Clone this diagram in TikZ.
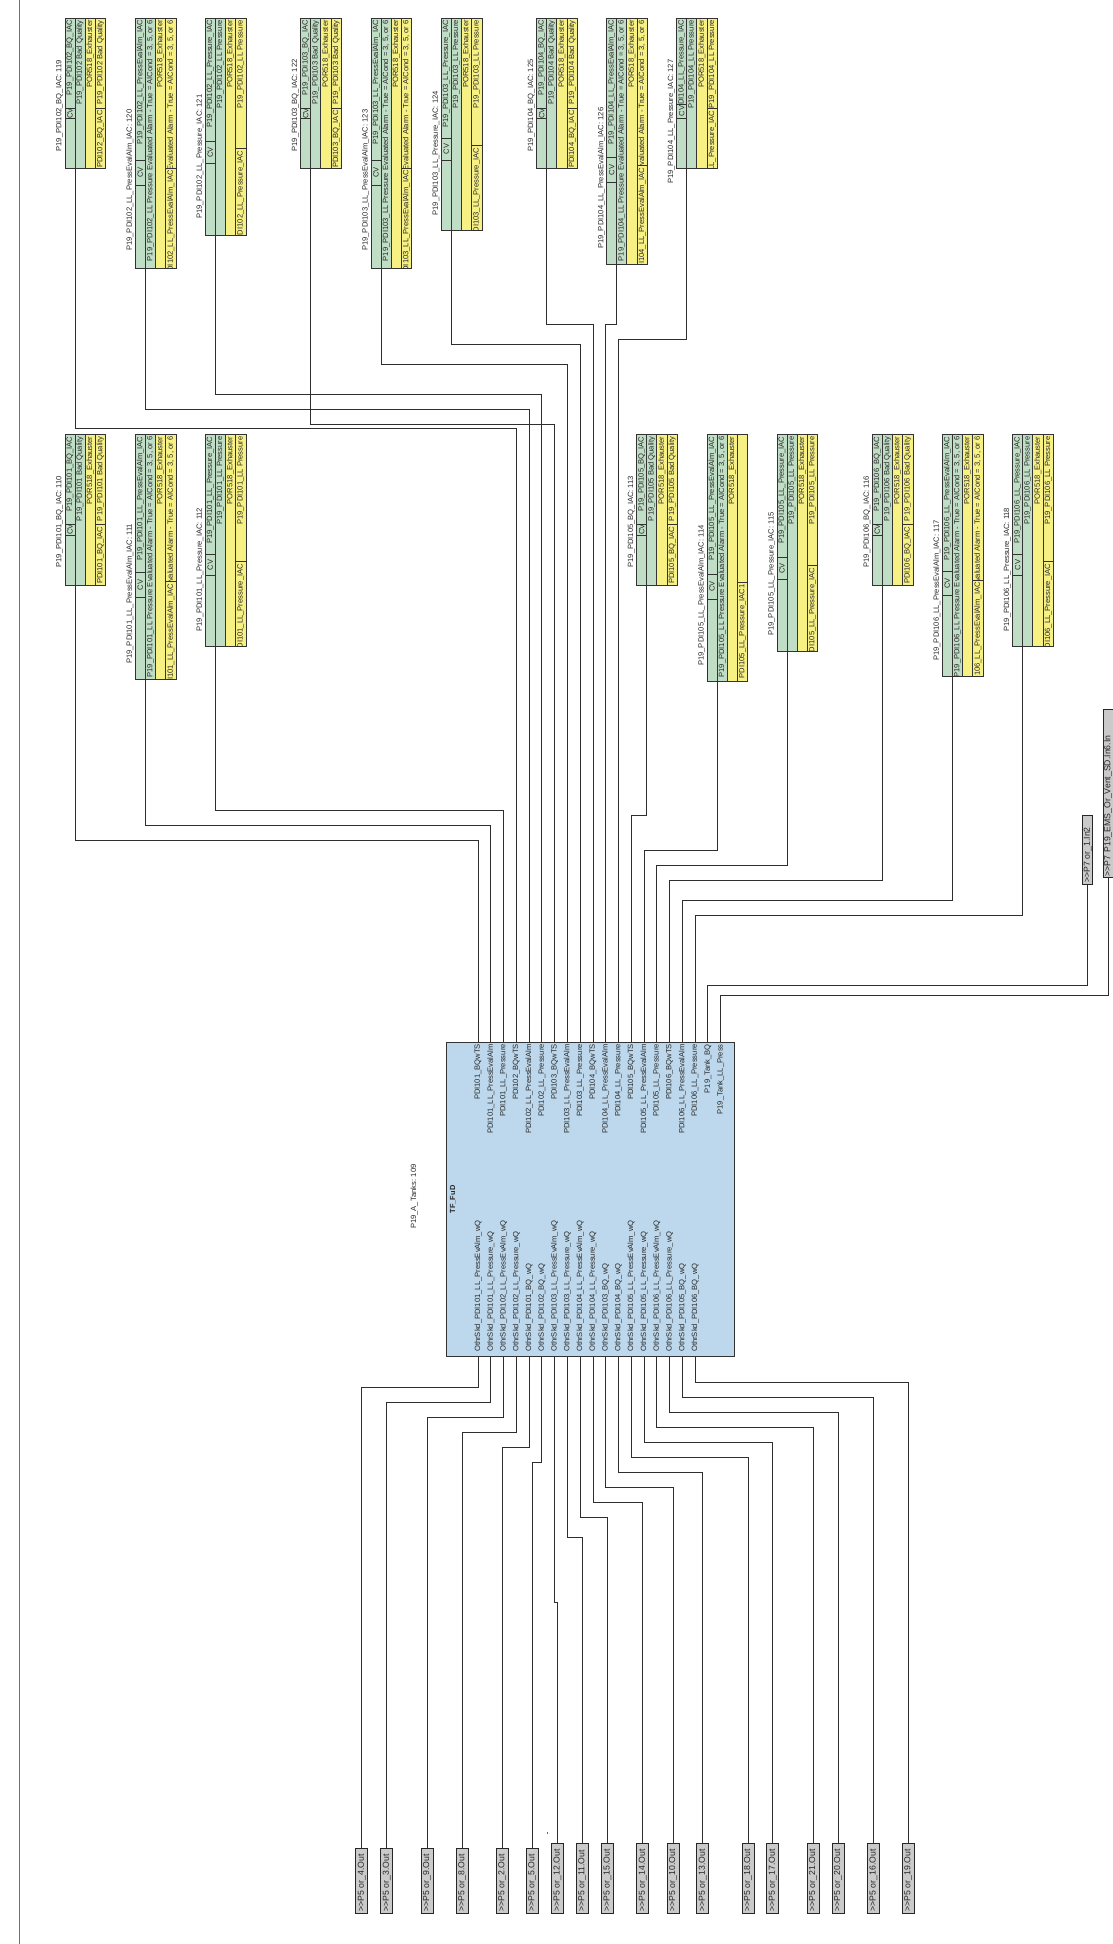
\documentclass[tikz,border=0pt]{standalone}
\usepackage{fontspec}
\newfontfamily\labelfont{Liberation Sans}
\definecolor{iacgreen}{RGB}{192,222,198}
\definecolor{iacyellow}{RGB}{247,241,132}
\definecolor{fublue}{RGB}{189,216,236}
\definecolor{boxgrey}{RGB}{202,202,202}

\newcommand{\kindBQ}[1]{\def\iaca{P19\_#1\_BQ\_IAC}\def\iacb{P19\_#1 Bad Quality}\def\iacd{P19\_#1 Bad Quality}\def\iace{#1\_BQ\_IAC}}
\newcommand{\kindLP}[1]{\def\iaca{P19\_#1\_LL\_Pressure\_IAC}\def\iacb{P19\_#1\_LL Pressure}\def\iacd{P19\_#1\_LL Pressure}\def\iace{#1\_LL\_Pressure\_IAC}}
\newcommand{\kindEA}[1]{\def\iaca{P19\_#1\_LL\_PressEvalAlm\_IAC}\def\iacb{P19\_#1\_LL Pressure Evaluated Alarm - True = AICond = 3, 5, or 6}\def\iacd{\iacb}\def\iace{#1\_LL\_PressEvalAlm\_IAC}}
\newcommand{\kindEX}[1]{\kindEA{#1}\def\iacd{}\def\iace{#1\_LL\_Pressure\_IAC1}}

\newcommand{\iaccell}[7]{
	\path[cellbox,fill=#6] (#2,#4) rectangle (#3,#5);
	\begin{scope}
		\clip (#2,#4) rectangle (#3,#5);
		\node[celltext,anchor=east] (#1) at ({(#2+#3)/2},#4+2) {#7};
	\end{scope}
}

\newcommand{\iacblock}[9]{
	\csname kind#9\endcsname{#8}
	\iaccell{iac#1a}{#2}{#2+10}{\rowtop}{#4}{iacgreen}{\iaca}
	\iaccell{iac#1c}{#2}{#2+10}{#5}{#3}{iacgreen}{}
	\path[cellbox,fill=iacgreen] (#2,#4) rectangle (#2+10,#5);
	\node[celltext] (iac#1cv) at (#2+5,{(#4+#5)/2}) {CV};
	\iaccell{iac#1b}{#2+10}{#2+20}{\rowtop}{#3}{iacgreen}{\iacb}
	\iaccell{iac#1p}{#2+20}{#2+30.3}{\rowtop}{#3}{iacyellow}{POR518\_Exhauster}
	\iaccell{iac#1d}{#2+30.3}{#2+40.6}{\rowtop}{#6}{iacyellow}{\iacd}
	\iaccell{iac#1e}{#2+30.3}{#2+40.6}{#6}{#3}{iacyellow}{\iace}
	\node[celltext,anchor=west] (iac#1l) at (#2-5.4,#7) {\iaca: #1};
	\coordinate (iac#1out) at (#2+10,#3);
}

\newcommand{\wireto}[3]{\draw[wire] (#1) -- (#1 |- 0,#2) -- (#3 |- 0,#2) -- (#3);}

\begin{document}
\begin{tikzpicture}[x=1pt,y=-1pt,
	wire/.style={draw=black!82,line width=0.75pt},
	cellbox/.style={draw=black!80,line width=0.75pt},
	celltext/.style={font=\labelfont\fontsize{7.6}{9}\selectfont,text=black!85,rotate=90,inner sep=0pt},
	outbox/.style={draw=black!85,fill=boxgrey,line width=0.8pt,rotate=90,font=\labelfont\fontsize{8.7}{10}\selectfont,text=black!85,minimum height=12pt,inner xsep=1.5pt,inner ysep=0pt,align=left},
	inbox/.style={outbox,minimum height=10pt},
	fublock/.style={draw=black!80,fill=fublue,line width=1pt,minimum width=288pt,minimum height=314pt}]
	\useasboundingbox (0,0) rectangle (1112,1944);
	\draw[draw=black!55,line width=1.5pt] (19.3,0) -- (19.3,1944);
	\fill[black!60] (546.5,1832) rectangle (548,1833.5);

	\def\rowtop{18}
	\iacblock{119}{65}{168}{108.3}{118.3}{108.3}{151.7}{PDI102}{BQ}
	\iacblock{120}{135.3}{268}{160}{185}{168}{251}{PDI102}{EA}
	\iacblock{121}{205.3}{235.7}{141.7}{163}{148.3}{219}{PDI102}{LP}
	\iacblock{122}{300.7}{168}{108.3}{118.3}{108.3}{151.7}{PDI103}{BQ}
	\iacblock{123}{371}{268.7}{160}{185}{168}{251}{PDI103}{EA}
	\iacblock{124}{441.3}{230.7}{138.3}{160}{145.7}{215.7}{PDI103}{LP}
	\iacblock{125}{536.7}{168}{108.3}{118.3}{108.3}{151.7}{PDI104}{BQ}
	\iacblock{126}{606.7}{264.3}{157.3}{182.3}{165.7}{249}{PDI104}{EA}
	\iacblock{127}{676.7}{168.3}{104}{118}{108.3}{184}{PDI104}{LP}

	\def\rowtop{434.3}
	\iacblock{110}{65}{585}{524.3}{535}{524.3}{567.7}{PDI101}{BQ}
	\iacblock{111}{135.3}{679}{572.3}{597.7}{581.7}{664}{PDI101}{EA}
	\iacblock{112}{205.3}{646.3}{554.3}{575.7}{561.7}{631.7}{PDI101}{LP}
	\iacblock{113}{636.7}{585}{524.3}{535}{524.3}{567.7}{PDI105}{BQ}
	\iacblock{114}{707}{681}{574}{599}{582.3}{666}{PDI105}{EX}
	\iacblock{115}{777}{651.7}{557.3}{579.3}{565.3}{636}{PDI105}{LP}
	\iacblock{116}{872.3}{585}{524.3}{535}{524.3}{567.7}{PDI106}{BQ}
	\iacblock{117}{942.3}{676}{571}{595.7}{580}{661}{PDI106}{EA}
	\iacblock{118}{1012.7}{646.3}{554.3}{575.7}{561.7}{631.7}{PDI106}{LP}

	\node[fublock] (tfb) at (590,1199) {};
	\node[celltext,font=\labelfont\bfseries\fontsize{7.4}{9}\selectfont] (tfbname) at (453,1199.4) {TF\_FuD};
	\node[celltext,anchor=west] (tfbtag) at (414,1229) {P19\_A\_Tanks: 109};

	\foreach \i/\t in {1/PDI101\_BQwTS,2/PDI101\_LL\_PressEvalAlm,3/PDI101\_LL\_Pressure,
		4/PDI102\_BQwTS,5/PDI102\_LL\_PressEvalAlm,6/PDI102\_LL\_Pressure,
		7/PDI103\_BQwTS,8/PDI103\_LL\_PressEvalAlm,9/PDI103\_LL\_Pressure,
		10/PDI104\_BQwTS,11/PDI104\_LL\_PressEvalAlm,12/PDI104\_LL\_Pressure,
		13/PDI105\_BQwTS,14/PDI105\_LL\_PressEvalAlm,15/PDI105\_LL\_Pressure,
		16/PDI106\_BQwTS,17/PDI106\_LL\_PressEvalAlm,18/PDI106\_LL\_Pressure,
		19/P19\_Tank\_BQ,20/P19\_Tank\_LL\_Press}{
		\pgfmathsetmacro\pinx{478+12.77*(\i-1)}
		\coordinate (top\i) at (\pinx,1042);
		\node[celltext,anchor=east] (toptext\i) at (\pinx,1044) {\t};
	}

	\foreach \i/\t in {1/PDI101\_LL\_PressEvAlm,2/PDI101\_LL\_Pressure,3/PDI102\_LL\_PressEvAlm,
		4/PDI102\_LL\_Pressure,5/PDI101\_BQ,6/PDI102\_BQ,
		7/PDI103\_LL\_PressEvAlm,8/PDI103\_LL\_Pressure,9/PDI104\_LL\_PressEvAlm,
		10/PDI104\_LL\_Pressure,11/PDI103\_BQ,12/PDI104\_BQ,
		13/PDI105\_LL\_PressEvAlm,14/PDI105\_LL\_Pressure,15/PDI106\_LL\_PressEvAlm,
		16/PDI106\_LL\_Pressure,17/PDI105\_BQ,18/PDI106\_BQ}{
		\pgfmathsetmacro\pinx{478+12.77*(\i-1)}
		\coordinate (bot\i) at (\pinx,1356);
		\node[celltext,anchor=west] (bottext\i) at (\pinx,1352) {OthrSkd\_\t\_wQ};
	}

	\foreach \n/\x in {4/361.8,3/386.7,9/426.9,8/462.1,2/502.3,5/532.1}{
		\node[outbox,minimum width=65pt,text width=62pt] (out\n) at (\x,1880.8) {>>P5 or\_\n.Out};
	}
	\foreach \n/\x in {12/557.4,11/582.2,15/607.5,14/642.7,10/672.9,13/702.8,18/748,17/772.8,21/813,20/837.9,16/873.5,19/908.3}{
		\node[outbox,minimum width=70pt,text width=67pt] (out\n) at (\x,1878.3) {>>P5 or\_\n.Out};
	}
	\node[inbox,minimum width=69pt,text width=66pt] (p7in) at (1087.7,849.8) {>>P7 or\_1.In2};
	\node[inbox,minimum width=168pt,text width=165pt] (emsin) at (1108.3,793.8) {>>P7 P19\_EMS\_Or\_Vent\_SD.In6.In};

	\wireto{iac110out}{840.7}{top1}
	\wireto{iac111out}{825.3}{top2}
	\wireto{iac112out}{810.3}{top3}
	\wireto{iac119out}{428.7}{top4}
	\wireto{iac120out}{409.3}{top5}
	\wireto{iac121out}{394.3}{top6}
	\wireto{iac122out}{424.3}{top7}
	\wireto{iac123out}{364}{top8}
	\wireto{iac124out}{344}{top9}
	\wireto{iac125out}{324}{top10}
	\wireto{iac126out}{324}{top11}
	\wireto{iac127out}{339}{top12}
	\wireto{iac113out}{815.3}{top13}
	\wireto{iac114out}{850.3}{top14}
	\wireto{iac115out}{865.3}{top15}
	\wireto{iac116out}{880.3}{top16}
	\wireto{iac117out}{900.3}{top17}
	\wireto{iac118out}{915.7}{top18}
	\wireto{p7in}{985.7}{top19}
	\wireto{emsin}{995.7}{top20}

	\wireto{bot1}{1387}{out4}
	\wireto{bot2}{1402}{out3}
	\wireto{bot3}{1417}{out9}
	\wireto{bot4}{1432}{out8}
	\wireto{bot5}{1447}{out2}
	\wireto{bot6}{1462.3}{out5}
	\wireto{bot7}{1602.3}{out12}
	\wireto{bot8}{1537.3}{out11}
	\wireto{bot9}{1517.3}{out15}
	\wireto{bot10}{1502.3}{out14}
	\wireto{bot11}{1487}{out10}
	\wireto{bot12}{1472.3}{out13}
	\wireto{bot13}{1457}{out18}
	\wireto{bot14}{1442}{out17}
	\wireto{bot15}{1427}{out21}
	\wireto{bot16}{1412}{out20}
	\wireto{bot17}{1397}{out16}
	\wireto{bot18}{1382}{out19}
\end{tikzpicture}
\end{document}
